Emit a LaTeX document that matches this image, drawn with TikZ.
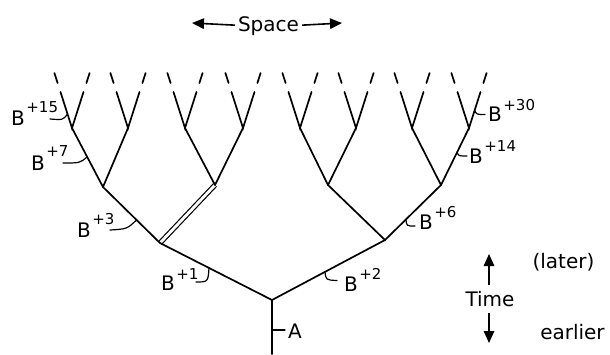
\documentclass[tikz,border=0pt]{standalone}
\usepackage{fontspec}
\setmainfont{DejaVu Sans}
\usetikzlibrary{arrows.meta}
\newcommand{\Bsup}[2][12pt]{B\kern1.5pt\raisebox{#1}{\fontsize{15}{15}\selectfont +#2}}
\begin{document}
\begin{tikzpicture}[x=1pt,y=-1pt,
  branch/.style={line width=1.7pt,line cap=round},
  dbl/.style={line width=1.2pt,double,double distance=2.8pt},
  tick/.style={line width=1.2pt,line cap=round},
  lbl/.style={font=\fontsize{20}{22}\selectfont,inner sep=0pt,anchor=base west},
  arr/.style={line width=1.6pt,-{Triangle[length=12pt,width=10.5pt]}}]
\useasboundingbox (0,0) rectangle (610,354);
% tree coordinates
\coordinate (rb) at (272,354);
\coordinate (r) at (272,300);
\coordinate (a) at (160,243);
\coordinate (b) at (385,240);
\coordinate (aa) at (103,187);
\coordinate (ab) at (215,185);
\coordinate (ba) at (328,185);
\coordinate (bb) at (441,185);
% double branch
\draw[dbl] (a) -- (ab);
% trunk and main branches
\draw[branch] (rb) -- (r);
\draw[branch] (a) -- (r) -- (b);
\draw[branch] (aa) -- (a);
\draw[branch] (ba) -- (b) -- (bb);
% level 3 and 4
\foreach \p/\n/\x in {aa/aaa/72,aa/aab/128,ab/aba/185,ab/abb/243,ba/baa/300,ba/bab/356,bb/bba/412,bb/bbb/469}{
  \coordinate (\n) at (\x,128);
  \coordinate (\n L) at (\x-11.5,92);
  \coordinate (\n R) at (\x+11.5,92);
  \coordinate (\n Lu) at (\x-14.4,83);
  \coordinate (\n Lv) at (\x-17.6,73);
  \coordinate (\n Ru) at (\x+14.4,83);
  \coordinate (\n Rv) at (\x+17.6,73);
  \draw[branch] (\p) -- (\n);
  \draw[branch] (\n L) -- (\n) -- (\n R);
  \draw[branch] (\n Lu) -- (\n Lv);
  \draw[branch] (\n Ru) -- (\n Rv);
}
% labels with ticks
\node[lbl] (l15) at (11,125) {\Bsup[13pt]{15}};
\coordinate (s15) at (50,119); \coordinate (e15) at (67.5,114);
\draw[tick] (s15) .. controls (63,120) .. (e15);
\node[lbl] (l7) at (31,170) {\Bsup[14pt]{7}};
\coordinate (s7) at (63,163); \coordinate (e7) at (87,157);
\draw[tick] (s7) .. controls (80,163) .. (e7);
\node[lbl] (l3) at (77,237) {\Bsup[13pt]{3}};
\coordinate (s3) at (110,230); \coordinate (e3) at (136.5,220);
\draw[tick] (s3) .. controls (127,229) .. (e3);
\node[lbl] (l1) at (161,290) {\Bsup[11pt]{1}};
\coordinate (s1) at (196,282); \coordinate (e1) at (209,268);
\draw[tick] (s1) .. controls (208,282) .. (e1);
\node[lbl] (l2) at (344,291) {\Bsup[12pt]{2}};
\coordinate (s2) at (325,272); \coordinate (e2) at (337,280.5);
\draw[tick] (s2) .. controls (326,280) .. (e2);
\node[lbl] (l6) at (419,229) {\Bsup[12pt]{6}};
\coordinate (s6) at (406,219.5); \coordinate (e6) at (415,226);
\draw[tick] (s6) .. controls (406.5,226) .. (e6);
\node[lbl] (l14) at (469,163) {\Bsup[12pt]{14}};
\coordinate (s14) at (457,152); \coordinate (e14) at (467,156);
\draw[tick] (s14) .. controls (458.5,156) .. (e14);
\node[lbl] (l30) at (488,121) {\Bsup[11pt]{30}};
\coordinate (s30) at (474.6,110); \coordinate (e30) at (485,114.5);
\draw[tick] (s30) .. controls (476.5,114.5) .. (e30);
% A
\node[lbl] (lA) at (288,338) {A};
\coordinate (sA) at (272,330); \coordinate (eA) at (285,330);
\draw[tick] (sA) -- (eA);
% Space
\node[lbl,anchor=base] (space) at (268.5,31) {Space};
\coordinate (spl) at (192,23); \coordinate (spr) at (342,23);
\draw[arr] (space.west) ++(-3,-0.5) coordinate (spl0) (spl0) -- (spl);
\draw[arr] (space.east) ++(3,-0.5) coordinate (spr0) (spr0) -- (spr);
% Time
\node[lbl,anchor=base] (time) at (490,306) {Time};
\coordinate (tu) at (489,254); \coordinate (td) at (489,343);
\coordinate (tu0) at (489,285); \coordinate (td0) at (489,313);
\draw[arr] (tu0) -- (tu);
\draw[arr] (td0) -- (td);
\node[lbl,anchor=base] (later) at (563.5,268) {(later)};
\node[lbl,anchor=base] (earlier) at (572.5,339) {earlier};
\end{tikzpicture}
\end{document}
